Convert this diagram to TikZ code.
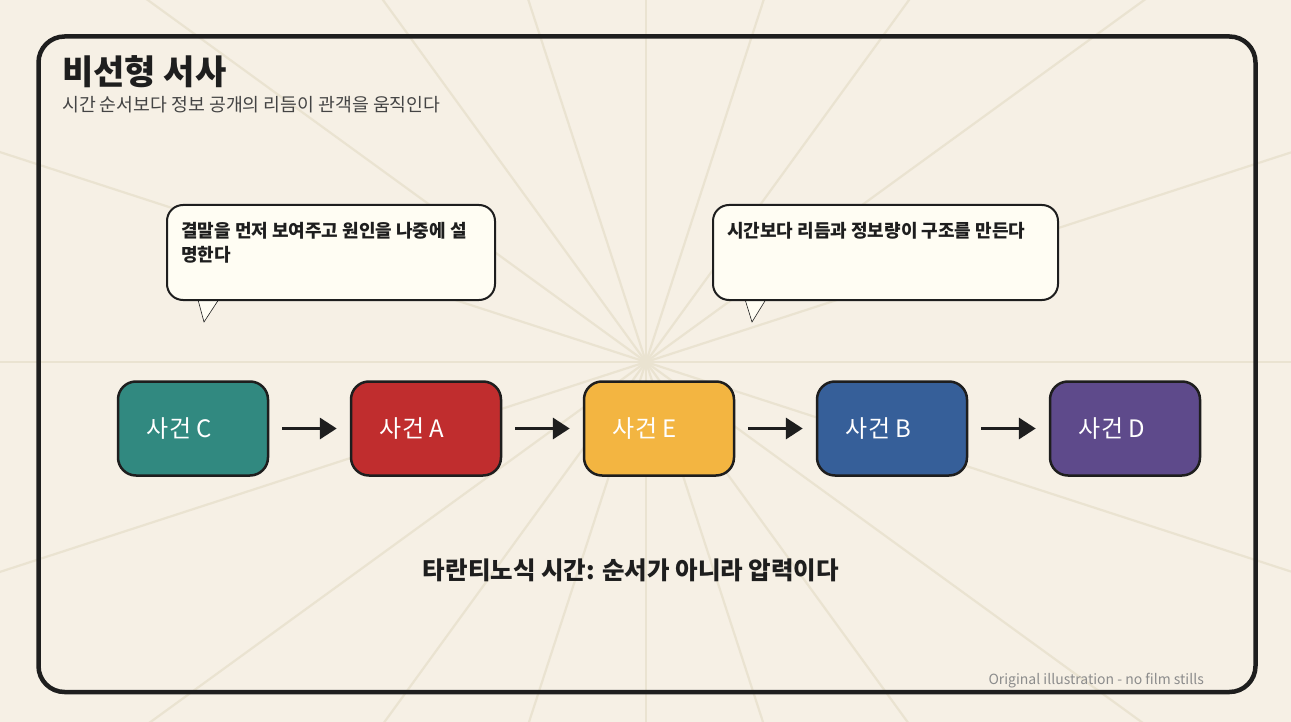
\documentclass[tikz,border=0pt]{standalone}
\usepackage{fontspec}
\setmainfont{Noto Sans CJK KR}
\usetikzlibrary{positioning,arrows.meta}

\definecolor{paper}{HTML}{F6F0E5}
\definecolor{rayc}{HTML}{EAE3D1}
\definecolor{ink}{HTML}{1E1E1E}
\definecolor{subgray}{HTML}{444444}
\definecolor{footgray}{HTML}{8C8C8C}
\definecolor{bubblefill}{HTML}{FFFDF3}
\definecolor{evteal}{HTML}{318980}
\definecolor{evred}{HTML}{C02D2E}
\definecolor{evyellow}{HTML}{F3B541}
\definecolor{evblue}{HTML}{365F99}
\definecolor{evpurple}{HTML}{5E4A8B}

\tikzset{
  ray/.style={draw=rayc, line width=2.2pt},
  frame/.style={draw=ink, line width=4.5pt, rounded corners=26pt},
  event/.style={draw=ink, line width=2.5pt, rounded corners=18pt,
    minimum width=150pt, minimum height=94pt, inner sep=0pt},
  evlabel/.style={text=white, anchor=west, inner sep=0pt,
    font=\fontsize{24}{28}\selectfont},
  bubble/.style={draw=ink, line width=2pt, fill=bubblefill, rounded corners=16pt,
    minimum width=328pt, minimum height=95pt, anchor=north west, inner sep=0pt},
  bubbletext/.style={anchor=north west, inner sep=0pt, align=left, text=ink,
    font=\bfseries\fontsize{18}{24}\selectfont},
  tail/.style={draw=ink, line width=0.6pt, fill=bubblefill},
  flow/.style={-{Triangle[length=17pt,width=21pt]}, draw=ink, line width=3.5pt,
    shorten <=13pt, shorten >=13pt},
}

\begin{document}
\begin{tikzpicture}[x=1pt, y=-1pt]
  \def \W {1291}
  \def \H {722}
  \def \cx {646}
  \def \cy {362}
  \def \gap {233}

  \useasboundingbox[fill=paper] (0,0) rectangle (\W,\H);

  % sunburst behind everything
  \begin{scope}
    \clip (0,0) rectangle (\W,\H);
    \coordinate (ctr) at (\cx,\cy);
    \foreach \a in {0,18,...,342}
      \draw[ray] (ctr) -- ++(\a:1000);
  \end{scope}

  \draw[frame] (38.5,36.5) rectangle (1255.5,692);

  \node[anchor=base west, inner sep=0pt, text=ink,
    font=\bfseries\fontsize{34}{38}\selectfont] (title) at (62,85) {비선형 서사};
  \node[anchor=base west, inner sep=0pt, text=subgray,
    font=\fontsize{18.3}{21}\selectfont] (subtitle) at (62,112)
    {시간 순서보다 정보 공개의 리듬이 관객을 움직인다};

  % speech bubbles
  \draw[tail] (197,296) -- (204,322) -- (221,296);
  \node[bubble] (bubL) at (166,204) {};
  \node[bubbletext] (bubLtext) at (181,222)
    {결말을 먼저 보여주고 원인을 나중에 설\\명한다};

  \draw[tail] (744,296) -- (752,322) -- (768,296);
  \node[bubble, minimum width=345pt] (bubR) at (712,204) {};
  \node[bubbletext] (bubRtext) at (727,222) {시간보다 리듬과 정보량이 구조를 만든다};

  % events
  \foreach \lab/\col [count=\i from 0] in {C/evteal, A/evred, E/evyellow, B/evblue, D/evpurple}{
    \node[event, fill=\col] (ev\i) at ({193+\i*\gap},428.5) {};
    \node[evlabel] (ev\i text) at ([xshift=30pt]ev\i.west) {사건 \lab};
  }
  \foreach \i [evaluate=\i as \j using int(\i+1)] in {0,...,3}
    \draw[flow] (ev\i) -- (ev\j);

  \node[anchor=base, inner sep=0pt, text=ink,
    font=\bfseries\fontsize{24.5}{28}\selectfont] (caption) at (631,579)
    {타란티노식 시간: 순서가 아니라 압력이다};
  \node[anchor=base east, inner sep=0pt, text=footgray,
    font=\fontsize{14}{16}\selectfont] (foot) at (1204,684)
    {Original illustration - no film stills};
\end{tikzpicture}
\end{document}
